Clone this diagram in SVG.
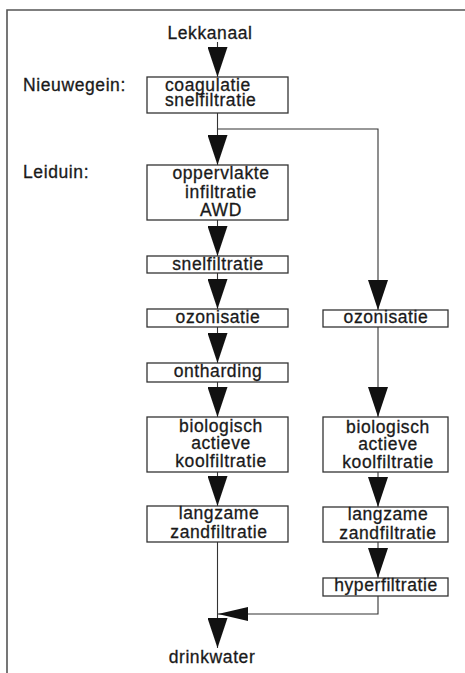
<svg xmlns="http://www.w3.org/2000/svg" width="465" height="673" viewBox="0 0 465 673">
<defs>
<style>
text{font-family:"Liberation Sans",Arial,sans-serif;font-size:17.5px;letter-spacing:0.6px;fill:#1a1a1a;stroke:#1a1a1a;stroke-width:0.3}
.c{text-anchor:middle}
.box{fill:#fff;stroke:#333;stroke-width:1.3}
.ln{fill:none;stroke:#333;stroke-width:1.1}
.frame{fill:none;stroke:#555;stroke-width:1.6}
</style>
<marker id="ah" markerUnits="userSpaceOnUse" markerWidth="30" markerHeight="20" refX="30" refY="10" orient="auto" viewBox="0 0 30 20">
<path d="M0,0 L30,10 L0,20 Z" fill="#111"/>
</marker>
<marker id="ahh" markerUnits="userSpaceOnUse" markerWidth="30" markerHeight="14" refX="30" refY="7" orient="auto" viewBox="0 0 30 14">
<path d="M0,0 L30,7 L0,14 Z" fill="#111"/>
</marker>
</defs>
<rect width="465" height="673" fill="#fff"/>
<path class="frame" d="M7,673 L7,10 L465,10"/>

<g id="connectors">
<line class="ln" x1="217.5" y1="42" x2="217.5" y2="77" marker-end="url(#ah)"/>
<line class="ln" x1="217.5" y1="113" x2="217.5" y2="165" marker-end="url(#ah)"/>
<path class="ln" d="M217.5,129 L378,129 L378,310" marker-end="url(#ah)"/>
<line class="ln" x1="217.5" y1="220" x2="217.5" y2="256" marker-end="url(#ah)"/>
<line class="ln" x1="217.5" y1="273" x2="217.5" y2="309" marker-end="url(#ah)"/>
<line class="ln" x1="217.5" y1="327" x2="217.5" y2="363" marker-end="url(#ah)"/>
<line class="ln" x1="217.5" y1="382" x2="217.5" y2="417" marker-end="url(#ah)"/>
<line class="ln" x1="378" y1="327" x2="378" y2="417" marker-end="url(#ah)"/>
<line class="ln" x1="217.5" y1="472" x2="217.5" y2="506" marker-end="url(#ah)"/>
<line class="ln" x1="378" y1="472" x2="378" y2="507" marker-end="url(#ah)"/>
<line class="ln" x1="378" y1="542" x2="378" y2="578" marker-end="url(#ah)"/>
<path class="ln" d="M378,596 L378,614 L218,614" marker-end="url(#ahh)"/>
<line class="ln" x1="217.5" y1="542" x2="217.5" y2="648" marker-end="url(#ah)"/>
</g>

<g id="lekkanaal"><text class="c" x="210" y="39">Lekkanaal</text></g>
<g id="label-nieuwegein"><text x="23" y="91">Nieuwegein:</text></g>
<g id="label-leiduin"><text x="23" y="178">Leiduin:</text></g>

<g id="coagulatie">
<rect class="box" x="147" y="77" width="141" height="36"/>
<text x="165" y="91">coagulatie</text>
<text x="165" y="106">snelfiltratie</text>
</g>
<g id="oppervlakte">
<rect class="box" x="147" y="165" width="141" height="55"/>
<text class="c" x="221" y="179">oppervlakte</text>
<text class="c" x="221" y="198">infiltratie</text>
<text class="c" x="221" y="216">AWD</text>
</g>
<g id="snelfiltratie">
<rect class="box" x="147" y="256" width="141" height="17"/>
<text class="c" x="218" y="270">snelfiltratie</text>
</g>
<g id="ozonisatie-l">
<rect class="box" x="147" y="309" width="141" height="18"/>
<text class="c" x="218" y="323">ozonisatie</text>
</g>
<g id="ozonisatie-r">
<rect class="box" x="323" y="310" width="125" height="17"/>
<text class="c" x="386" y="323">ozonisatie</text>
</g>
<g id="ontharding">
<rect class="box" x="147" y="363" width="141" height="19"/>
<text class="c" x="218" y="377">ontharding</text>
</g>
<g id="bio-l">
<rect class="box" x="147" y="417" width="141" height="55"/>
<text class="c" x="221" y="432">biologisch</text>
<text class="c" x="221" y="449">actieve</text>
<text class="c" x="221" y="467">koolfiltratie</text>
</g>
<g id="bio-r">
<rect class="box" x="323" y="417" width="125" height="55"/>
<text class="c" x="388" y="433">biologisch</text>
<text class="c" x="388" y="450">actieve</text>
<text class="c" x="388" y="468">koolfiltratie</text>
</g>
<g id="langzaam-l">
<rect class="box" x="147" y="506" width="141" height="36"/>
<text class="c" x="219" y="519">langzame</text>
<text class="c" x="219" y="538">zandfiltratie</text>
</g>
<g id="langzaam-r">
<rect class="box" x="323" y="507" width="125" height="35"/>
<text class="c" x="388" y="520">langzame</text>
<text class="c" x="388" y="539">zandfiltratie</text>
</g>
<g id="hyperfiltratie">
<rect class="box" x="323" y="578" width="125" height="18"/>
<text class="c" x="386" y="591">hyperfiltratie</text>
</g>
<g id="drinkwater"><text class="c" x="212" y="663">drinkwater</text></g>
</svg>
